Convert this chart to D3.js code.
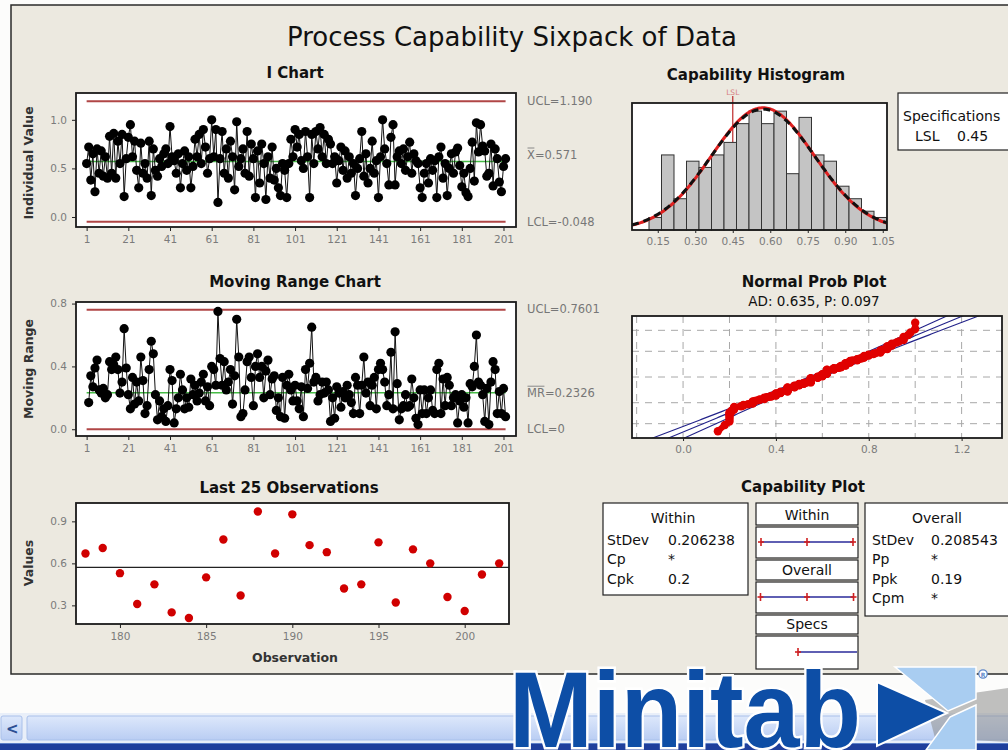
<!DOCTYPE html>
<html lang="en">
<head>
  <meta charset="UTF-8">
  <title>Process Capability Sixpack of Data</title>
  <style>
    body { margin: 0; overflow: hidden; background: #fff; }
    svg { display: block; font-family: "DejaVu Sans", sans-serif; }
    .title { font-weight: bold; font-size: 15px; fill: #111; text-anchor: middle; }
    .ylab { font-weight: bold; font-size: 12.5px; fill: #333; text-anchor: middle; }
    .lim { font-size: 11.5px; fill: #777; }
    .box { font-size: 14px; fill: #111; }
  </style>
</head>
<body>
  <script src="https://d3js.org/d3.v7.min.js"></script>
  <script>
    // individual observations (last 25 from the bottom-left panel)
    const obsValues = [
      0.55, 0.72, 0.38, 0.65, 0.26, 0.70, 0.45, 0.68, 0.42, 0.62,
      0.40, 0.83, 0.45, 0.86, 0.40, 0.78, 0.55, 0.85, 0.21, 0.60,
      0.82, 0.95, 0.62, 0.78, 0.48, 0.30, 0.76, 0.45, 0.55, 0.40,
      0.78, 0.22, 0.70, 0.48, 0.42, 0.60, 0.52, 0.65, 0.70, 0.55,
      0.93, 0.62, 0.58, 0.45, 0.65, 0.30, 0.55, 0.68, 0.48, 0.62,
      0.30, 0.52, 0.80, 0.62, 0.85, 0.55, 0.90, 0.72, 0.45, 0.60,
      1.00, 0.62, 0.90, 0.15, 0.60, 0.88, 0.45, 0.70, 0.40, 0.78,
      0.62, 0.28, 0.98, 0.52, 0.60, 0.70, 0.45, 0.88, 0.42, 0.75,
      0.60, 0.20, 0.68, 0.35, 0.75, 0.55, 0.18, 0.62, 0.40, 0.72,
      0.38, 0.50, 0.30, 0.22, 0.55, 0.48, 0.20, 0.55, 0.80, 0.62,
      0.90, 0.72, 0.85, 0.58, 0.50, 0.88, 0.62, 0.20, 0.85, 0.55,
      0.88, 0.70, 0.92, 0.62, 0.85, 0.55, 0.80, 0.75, 0.55, 0.62,
      0.35, 0.58, 0.72, 0.48, 0.68, 0.40, 0.62, 0.45, 0.55, 0.22,
      0.50, 0.60, 0.88, 0.42, 0.65, 0.35, 0.50, 0.78, 0.45, 0.58,
      0.20, 0.62, 1.00, 0.70, 0.55, 0.33, 0.82, 0.95, 0.33, 0.62,
      0.68, 0.55, 0.70, 0.48, 0.62, 0.77, 0.45, 0.65, 0.58, 0.55,
      0.30, 0.20, 0.45, 0.55, 0.35, 0.60, 0.48, 0.58, 0.20, 0.62,
      0.72, 0.40, 0.55, 0.22, 0.50, 0.65, 0.45,
      0.67, 0.71, 0.53, 0.31, 0.45, 0.25, 0.21, 0.50, 0.77, 0.37,
      0.97, 0.67, 0.95, 0.73, 0.68, 0.42, 0.45, 0.75, 0.32, 0.70,
      0.60, 0.36, 0.26, 0.52, 0.60
    ];

    const iUCL = 1.190, iMean = 0.571, iLCL = -0.048;
    const mrUCL = 0.7601, mrMean = 0.2326, mrLCL = 0;
    const sdWithin = 0.206238, sdOverall = 0.208543;
    const lsl = 0.45;

    const obsTicks = [1, 21, 41, 61, 81, 101, 121, 141, 161, 181, 201];
    const iTicksY = [0, 0.5, 1.0];
    const mrTicksY = [0, 0.4, 0.8];
    const lastTicksX = [180, 185, 190, 195, 200];
    const lastTicksY = [0.3, 0.6, 0.9];

    // capability histogram, bins of 0.05 starting at 0.115
    const histStart = 0.115, histWidth = 0.05;
    const histCounts = [2, 12, 5, 11, 10, 12, 14, 17, 19, 17, 19, 9, 18, 12, 11, 7, 5, 3, 2];
    const histTicks = [0.15, 0.30, 0.45, 0.60, 0.75, 0.90, 1.05];

    const probTicks = [0.0, 0.4, 0.8, 1.2];
    const probGridX = [-0.2, 0, 0.2, 0.4, 0.6, 0.8, 1.0, 1.2];
    const probGridPct = [1, 10, 50, 90, 99];

    const withinStats = [["StDev", "0.206238"], ["Cp", "*"], ["Cpk", "0.2"]];
    const overallStats = [["StDev", "0.208543"], ["Pp", "*"], ["Ppk", "0.19"], ["Cpm", "*"]];

    const n = obsValues.length;
    const movingRanges = obsValues.slice(1).map((v, i) => ({ obs: i + 2, v: Math.abs(v - obsValues[i]) }));
    const lastObs = obsValues.slice(-25).map((v, i) => ({ obs: n - 24 + i, v }));

    const W = 1008, H = 750;
    const svg = d3.select("body").append("svg").attr("width", W).attr("height", H);
    const defs = svg.append("defs");

    // window background, panel, scrollbar
    svg.append("rect").attr("width", W).attr("height", H).attr("fill", "#fcfcfb");
    svg.append("rect").attr("x", 11).attr("y", 5).attr("width", 1100).attr("height", 669)
      .attr("fill", "#ece9e0").attr("stroke", "#2a2a2a").attr("stroke-width", 1.5);

    const sg = defs.append("linearGradient").attr("id", "scroll").attr("x1", 0).attr("y1", 0).attr("x2", 0).attr("y2", 1);
    sg.append("stop").attr("offset", 0).attr("stop-color", "#dde8fb");
    sg.append("stop").attr("offset", 1).attr("stop-color", "#b9cdf3");
    svg.append("rect").attr("x", 0).attr("y", 713).attr("width", W).attr("height", 30).attr("fill", "#e9eff9");
    svg.append("rect").attr("x", 27).attr("y", 716).attr("width", 990).attr("height", 24).attr("rx", 2)
      .attr("fill", "url(#scroll)").attr("stroke", "#a9c0ea");
    svg.append("rect").attr("x", 1).attr("y", 716).attr("width", 21).attr("height", 24).attr("rx", 2)
      .attr("fill", "url(#scroll)").attr("stroke", "#a9c0ea");
    svg.append("text").attr("x", 6).attr("y", 734).attr("font-size", 15).attr("font-weight", "bold")
      .attr("fill", "#2c4f94").text("<");
    svg.append("rect").attr("x", 0).attr("y", 743).attr("width", W).attr("height", 7).attr("fill", "#1f3f9c");
    svg.append("line").attr("x1", 0).attr("x2", W).attr("y1", 743.5).attr("y2", 743.5).attr("stroke", "#5e80c8");

    svg.append("text").attr("x", 512).attr("y", 46).attr("text-anchor", "middle")
      .attr("font-size", 26).attr("fill", "#111").text("Process Capability Sixpack of Data");

    // helpers
    function frameBg(x0, y0, x1, y1) {
      svg.append("rect").attr("x", x0).attr("y", y0).attr("width", x1 - x0).attr("height", y1 - y0).attr("fill", "#fff");
    }
    function frameBorder(x0, y0, x1, y1) {
      svg.append("rect").attr("x", x0).attr("y", y0).attr("width", x1 - x0).attr("height", y1 - y0)
        .attr("fill", "none").attr("stroke", "#1a1a1a").attr("stroke-width", 1.8);
    }
    function clip(id, x0, y0, x1, y1) {
      defs.append("clipPath").attr("id", id).append("rect")
        .attr("x", x0).attr("y", y0).attr("width", x1 - x0).attr("height", y1 - y0);
      return `url(#${id})`;
    }
    function styleAxis(g) {
      g.attr("font-family", "DejaVu Sans, sans-serif").attr("font-size", 10.5);
      g.select(".domain").remove();
      g.selectAll("line").attr("stroke", "#222");
      g.selectAll("text").attr("fill", "#7b7b7b");
    }
    function bottomAxis(scale, ticks, y, fmt, size = 4) {
      svg.append("g").attr("transform", `translate(0,${y})`)
        .call(d3.axisBottom(scale).tickValues(ticks).tickSize(size).tickPadding(5).tickFormat(fmt))
        .call(styleAxis);
    }
    function leftAxis(scale, ticks, x, fmt) {
      svg.append("g").attr("transform", `translate(${x},0)`)
        .call(d3.axisLeft(scale).tickValues(ticks).tickSize(4).tickPadding(5).tickFormat(fmt))
        .call(styleAxis);
    }
    function yTitle(text, x, y) {
      svg.append("text").attr("class", "ylab").attr("transform", `translate(${x},${y}) rotate(-90)`)
        .attr("dy", "0.35em").text(text);
    }
    function limitLabel(x, y, head, rest, bar) {
      const t = svg.append("text").attr("class", "lim").attr("x", x).attr("y", y).attr("dy", "0.35em").text(head + rest);
      if (bar) {
        const w = t.node().getSubStringLength(0, head.length);
        svg.append("line").attr("x1", x + 0.5).attr("x2", x + w - 0.5).attr("y1", y - 6.5).attr("y2", y - 6.5)
          .attr("stroke", "#888").attr("stroke-width", 1);
      }
    }
    function hLine(x, y, a, b, v, color, w) {
      svg.append("line").attr("x1", x(a)).attr("x2", x(b)).attr("y1", y(v)).attr("y2", y(v))
        .attr("stroke", color).attr("stroke-width", w);
    }

    // ---------- I Chart ----------
    const xI = d3.scaleLinear().domain([-4.1, 207]).range([76, 516]);
    const yI = d3.scaleLinear().domain([-0.103, 1.276]).range([227, 93]);
    svg.append("text").attr("class", "title").attr("x", 295).attr("y", 78).text("I Chart");
    frameBg(76, 93, 516, 227);
    hLine(xI, yI, 1, n, iUCL, "#b04646", 2);
    hLine(xI, yI, 1, n, iLCL, "#b04646", 2);
    hLine(xI, yI, 1, n, iMean, "#46bb46", 1.5);
    svg.append("path").datum(obsValues)
      .attr("d", d3.line().x((d, i) => xI(i + 1)).y(d => yI(d)))
      .attr("fill", "none").attr("stroke", "#111").attr("stroke-width", 1);
    svg.append("g").selectAll("circle").data(obsValues).join("circle")
      .attr("cx", (d, i) => xI(i + 1)).attr("cy", d => yI(d)).attr("r", 4.6).attr("fill", "#000");
    frameBorder(76, 93, 516, 227);
    bottomAxis(xI, obsTicks, 227, d3.format("d"));
    leftAxis(yI, iTicksY, 76, d3.format(".1f"));
    yTitle("Individual Value", 29, 163);
    limitLabel(527, yI(iUCL), "UCL", "=1.190", false);
    limitLabel(527, yI(iMean) - 7, "X", "=0.571", true);
    limitLabel(527, yI(iLCL), "LCL", "=-0.048", false);

    // ---------- Moving Range Chart ----------
    const yMR = d3.scaleLinear().domain([-0.043, 0.81]).range([436, 302]);
    svg.append("text").attr("class", "title").attr("x", 295).attr("y", 287).text("Moving Range Chart");
    frameBg(76, 302, 516, 436);
    hLine(xI, yMR, 1, n, mrUCL, "#b04646", 2);
    hLine(xI, yMR, 1, n, mrLCL, "#b04646", 2);
    hLine(xI, yMR, 1, n, mrMean, "#46bb46", 1.5);
    svg.append("path").datum(movingRanges)
      .attr("d", d3.line().x(d => xI(d.obs)).y(d => yMR(d.v)))
      .attr("fill", "none").attr("stroke", "#111").attr("stroke-width", 1);
    svg.append("g").selectAll("circle").data(movingRanges).join("circle")
      .attr("cx", d => xI(d.obs)).attr("cy", d => yMR(d.v)).attr("r", 4.6).attr("fill", "#000");
    frameBorder(76, 302, 516, 436);
    bottomAxis(xI, obsTicks, 436, d3.format("d"));
    leftAxis(yMR, mrTicksY, 76, d3.format(".1f"));
    yTitle("Moving Range", 29, 369);
    limitLabel(527, yMR(mrUCL) - 1, "UCL", "=0.7601", false);
    limitLabel(527, yMR(mrMean), "MR", "=0.2326", true);
    limitLabel(527, yMR(mrLCL), "LCL", "=0", false);

    // ---------- Last 25 Observations ----------
    const xL = d3.scaleLinear().domain([177.45, 202.57]).range([76, 509]);
    const yL = d3.scaleLinear().domain([0.167, 1.031]).range([624, 503]);
    svg.append("text").attr("class", "title").attr("x", 289).attr("y", 493).text("Last 25 Observations");
    frameBg(76, 503, 509, 624);
    hLine(xL, yL, 177.45, 202.57, iMean, "#222", 1.3);
    svg.append("g").selectAll("circle").data(lastObs).join("circle")
      .attr("cx", d => xL(d.obs)).attr("cy", d => yL(d.v)).attr("r", 4.2).attr("fill", "#d00000");
    frameBorder(76, 503, 509, 624);
    bottomAxis(xL, lastTicksX, 624, d3.format("d"));
    leftAxis(yL, lastTicksY, 76, d3.format(".1f"));
    yTitle("Values", 29, 563);
    svg.append("text").attr("class", "ylab").attr("x", 295).attr("y", 662).text("Observation");

    // ---------- Capability Histogram ----------
    const xH = d3.scaleLinear().domain([0.047, 1.067]).range([632, 887]);
    const yH = d3.scaleLinear().domain([0, 20.3]).range([230, 103]);
    svg.append("text").attr("class", "title").attr("x", 756).attr("y", 80).text("Capability Histogram");
    frameBg(632, 103, 887, 230);
    svg.append("line").attr("x1", xH(lsl)).attr("x2", xH(lsl)).attr("y1", 96).attr("y2", 230)
      .attr("stroke", "#c23a3a").attr("stroke-width", 1.3);
    svg.append("text").attr("x", xH(lsl)).attr("y", 95).attr("text-anchor", "middle")
      .attr("font-size", 7.5).attr("fill", "#d88080").text("LSL");
    svg.append("g").selectAll("rect").data(histCounts).join("rect")
      .attr("x", (d, i) => xH(histStart + i * histWidth))
      .attr("width", xH(histStart + histWidth) - xH(histStart))
      .attr("y", d => yH(d)).attr("height", d => yH(0) - yH(d))
      .attr("fill", "#c4c4c4").attr("stroke", "#333").attr("stroke-width", 1);
    const pdf = (x, s) => Math.exp(-((x - iMean) ** 2) / (2 * s * s)) / (s * Math.sqrt(2 * Math.PI));
    const curveX = d3.range(0.047, 1.068, 0.005);
    const hClip = clip("hclip", 632, 103, 887, 230);
    svg.append("path").datum(curveX).attr("clip-path", hClip)
      .attr("d", d3.line().x(d => xH(d)).y(d => yH(n * histWidth * pdf(d, sdWithin))))
      .attr("fill", "none").attr("stroke", "#e02020").attr("stroke-width", 3);
    svg.append("path").datum(curveX).attr("clip-path", hClip)
      .attr("d", d3.line().x(d => xH(d)).y(d => yH(n * histWidth * pdf(d, sdOverall))))
      .attr("fill", "none").attr("stroke", "#111").attr("stroke-width", 3).attr("stroke-dasharray", "7,5");
    frameBorder(632, 103, 887, 230);
    bottomAxis(xH, histTicks, 230, d3.format(".2f"), 3);

    // specifications box
    svg.append("rect").attr("x", 898).attr("y", 93).attr("width", 130).attr("height", 57)
      .attr("fill", "#fff").attr("stroke", "#222").attr("stroke-width", 1.2);
    svg.append("text").attr("class", "box").attr("x", 903).attr("y", 121).text("Specifications");
    svg.append("text").attr("class", "box").attr("x", 915).attr("y", 141).text("LSL");
    svg.append("text").attr("class", "box").attr("x", 957).attr("y", 141).text(lsl.toFixed(2));

    // ---------- Normal Prob Plot ----------
    function invNorm(p) {
      const a = [-3.969683028665376e+01, 2.209460984245205e+02, -2.759285104469687e+02, 1.383577518672690e+02, -3.066479806614716e+01, 2.506628277459239e+00];
      const b = [-5.447609879822406e+01, 1.615858368580409e+02, -1.556989798598866e+02, 6.680131188771972e+01, -1.328068155288572e+01];
      const c = [-7.784894002430293e-03, -3.223964580411365e-01, -2.400758277161838e+00, -2.549732539343734e+00, 4.374664141464968e+00, 2.938163982698783e+00];
      const d = [7.784695709041462e-03, 3.224671290700398e-01, 2.445134137142996e+00, 3.754408661907416e+00];
      const pl = 0.02425;
      if (p < pl) {
        const q = Math.sqrt(-2 * Math.log(p));
        return (((((c[0] * q + c[1]) * q + c[2]) * q + c[3]) * q + c[4]) * q + c[5]) / ((((d[0] * q + d[1]) * q + d[2]) * q + d[3]) * q + 1);
      }
      if (p > 1 - pl) return -invNorm(1 - p);
      const q = p - 0.5, r = q * q;
      return (((((a[0] * r + a[1]) * r + a[2]) * r + a[3]) * r + a[4]) * r + a[5]) * q / (((((b[0] * r + b[1]) * r + b[2]) * r + b[3]) * r + b[4]) * r + 1);
    }
    const xP = d3.scaleLinear().domain([-0.22, 1.374]).range([632, 1002]);
    const yP = d3.scaleLinear().domain([-3.04, 3.04]).range([438, 316]);
    svg.append("text").attr("class", "title").attr("x", 814).attr("y", 287).text("Normal Prob Plot");
    svg.append("text").attr("x", 814).attr("y", 306).attr("text-anchor", "middle").attr("font-size", 13.5)
      .attr("fill", "#111").text("AD: 0.635, P: 0.097");
    frameBg(632, 316, 1002, 438);
    svg.append("g").selectAll("line").data(probGridX).join("line")
      .attr("x1", d => xP(d)).attr("x2", d => xP(d)).attr("y1", 316).attr("y2", 438)
      .attr("stroke", "#a8a8a8").attr("stroke-dasharray", "7,6");
    svg.append("g").selectAll("line").data(probGridPct).join("line")
      .attr("x1", 632).attr("x2", 1002).attr("y1", d => yP(invNorm(d / 100))).attr("y2", d => yP(invNorm(d / 100)))
      .attr("stroke", "#a8a8a8").attr("stroke-dasharray", "7,6");
    const pClip = clip("pclip", 632, 316, 1002, 438);
    const zs = d3.range(-3.3, 3.31, 0.05);
    const half = z => 1.96 * sdOverall * Math.sqrt(1 / n + z * z / (2 * (n - 1)));
    [-1, 0, 1].forEach(k => {
      svg.append("path").datum(zs).attr("clip-path", pClip)
        .attr("d", d3.line().x(z => xP(iMean + sdOverall * z + k * half(z))).y(z => yP(z)))
        .attr("fill", "none").attr("stroke", "#23238a").attr("stroke-width", 1.1);
    });
    const sorted = obsValues.slice().sort(d3.ascending);
    const probPts = sorted.map((v, i) => ({ v, z: invNorm((i + 1 - 0.3) / (n + 0.4)) }));
    svg.append("path").datum(probPts)
      .attr("d", d3.line().x(d => xP(d.v)).y(d => yP(d.z)))
      .attr("fill", "none").attr("stroke", "#e00000").attr("stroke-width", 6).attr("stroke-linejoin", "round");
    svg.append("g").selectAll("circle").data(probPts).join("circle")
      .attr("cx", d => xP(d.v)).attr("cy", d => yP(d.z))
      .attr("r", 4.2).attr("fill", "#e00000");
    frameBorder(632, 316, 1002, 438);
    bottomAxis(xP, probTicks, 438, d3.format(".1f"), 3);

    // ---------- Capability Plot ----------
    svg.append("text").attr("class", "title").attr("x", 803).attr("y", 492).text("Capability Plot");
    function statBox(x0, y0, x1, y1, head, rows, labX, valX, headX) {
      svg.append("rect").attr("x", x0).attr("y", y0).attr("width", x1 - x0).attr("height", y1 - y0)
        .attr("fill", "#fff").attr("stroke", "#222").attr("stroke-width", 1.2);
      svg.append("text").attr("class", "box").attr("x", headX)
        .attr("y", y0 + 20).attr("text-anchor", "middle").text(head);
      rows.forEach(([k, v], i) => {
        svg.append("text").attr("class", "box").attr("x", labX).attr("y", y0 + 42 + i * 19.3).text(k);
        svg.append("text").attr("class", "box").attr("x", valX).attr("y", y0 + 42 + i * 19.3).text(v);
      });
    }
    statBox(603, 503, 748, 595, "Within", withinStats, 607, 668, 673);
    statBox(865, 503, 1020, 616, "Overall", overallStats, 872, 931, 937);

    const xC = d3.scaleLinear().domain([iMean - 3 * sdWithin, iMean + 3 * sdWithin]).range([761, 853]);
    const cells = [
      { y0: 503, y1: 525, label: "Within" },
      { y0: 527, y1: 558 },
      { y0: 560, y1: 580, label: "Overall" },
      { y0: 582, y1: 613 },
      { y0: 615, y1: 634, label: "Specs" },
      { y0: 636, y1: 669 }
    ];
    cells.forEach(c => {
      svg.append("rect").attr("x", 756).attr("y", c.y0).attr("width", 102).attr("height", c.y1 - c.y0)
        .attr("fill", "#fff").attr("stroke", "#222").attr("stroke-width", 1.2);
      if (c.label) svg.append("text").attr("class", "box").attr("x", 807).attr("y", c.y1 - 5)
        .attr("text-anchor", "middle").text(c.label);
    });
    function intervalRow(y, sd) {
      const pts = [iMean - 3 * sd, iMean, iMean + 3 * sd];
      svg.append("line").attr("x1", xC(pts[0])).attr("x2", xC(pts[2])).attr("y1", y).attr("y2", y)
        .attr("stroke", "#2a2a9a").attr("stroke-width", 1.6);
      pts.forEach(p => {
        svg.append("line").attr("x1", xC(p)).attr("x2", xC(p)).attr("y1", y - 4).attr("y2", y + 4)
          .attr("stroke", "#d02020").attr("stroke-width", 1.6);
        svg.append("line").attr("x1", xC(p) - 3).attr("x2", xC(p) + 3).attr("y1", y).attr("y2", y)
          .attr("stroke", "#d02020").attr("stroke-width", 1.6);
      });
    }
    intervalRow(542, sdWithin);
    intervalRow(597, sdOverall);
    svg.append("line").attr("x1", xC(lsl)).attr("x2", 857).attr("y1", 652).attr("y2", 652)
      .attr("stroke", "#2a2a9a").attr("stroke-width", 1.6);
    svg.append("line").attr("x1", xC(lsl)).attr("x2", xC(lsl)).attr("y1", 648).attr("y2", 656)
      .attr("stroke", "#d02020").attr("stroke-width", 1.6);
    svg.append("line").attr("x1", xC(lsl) - 3).attr("x2", xC(lsl) + 3).attr("y1", 652).attr("y2", 652)
      .attr("stroke", "#d02020").attr("stroke-width", 1.6);

    // ---------- Minitab logo ----------
    const logo = svg.append("g");
    logo.append("polygon").attr("points", "925,700 1008,688 1008,742 935,738")
      .attr("fill", "#8d8d8d").attr("opacity", 0.55);
    logo.append("polygon").attr("points", "895,667 976,667 976,699 948,711")
      .attr("fill", "#a9cdf1").attr("stroke", "#fff").attr("stroke-width", 1.5);
    logo.append("polygon").attr("points", "950,717 976,705 976,750 926,750")
      .attr("fill", "#a9cdf1").attr("stroke", "#fff").attr("stroke-width", 1.5);
    logo.append("polygon").attr("points", "877,682 947,713 877,746")
      .attr("fill", "#0d4ea6").attr("stroke", "#fff").attr("stroke-width", 2);
    logo.append("text").attr("x", 509).attr("y", 747).attr("font-family", "Liberation Sans, Arial, sans-serif")
      .attr("font-weight", "bold").attr("font-size", 108).attr("textLength", 352).attr("lengthAdjust", "spacingAndGlyphs")
      .attr("fill", "#0d4ea6").attr("stroke", "#fff").attr("stroke-width", 5).attr("paint-order", "stroke")
      .text("Minitab");
    logo.append("circle").attr("cx", 983).attr("cy", 674).attr("r", 4.2)
      .attr("fill", "#fff").attr("stroke", "#5d86c8").attr("stroke-width", 1.2);
    logo.append("text").attr("x", 983).attr("y", 676.5).attr("text-anchor", "middle").attr("font-size", 6)
      .attr("font-weight", "bold").attr("fill", "#5d86c8").text("R");
  </script>
</body>
</html>
